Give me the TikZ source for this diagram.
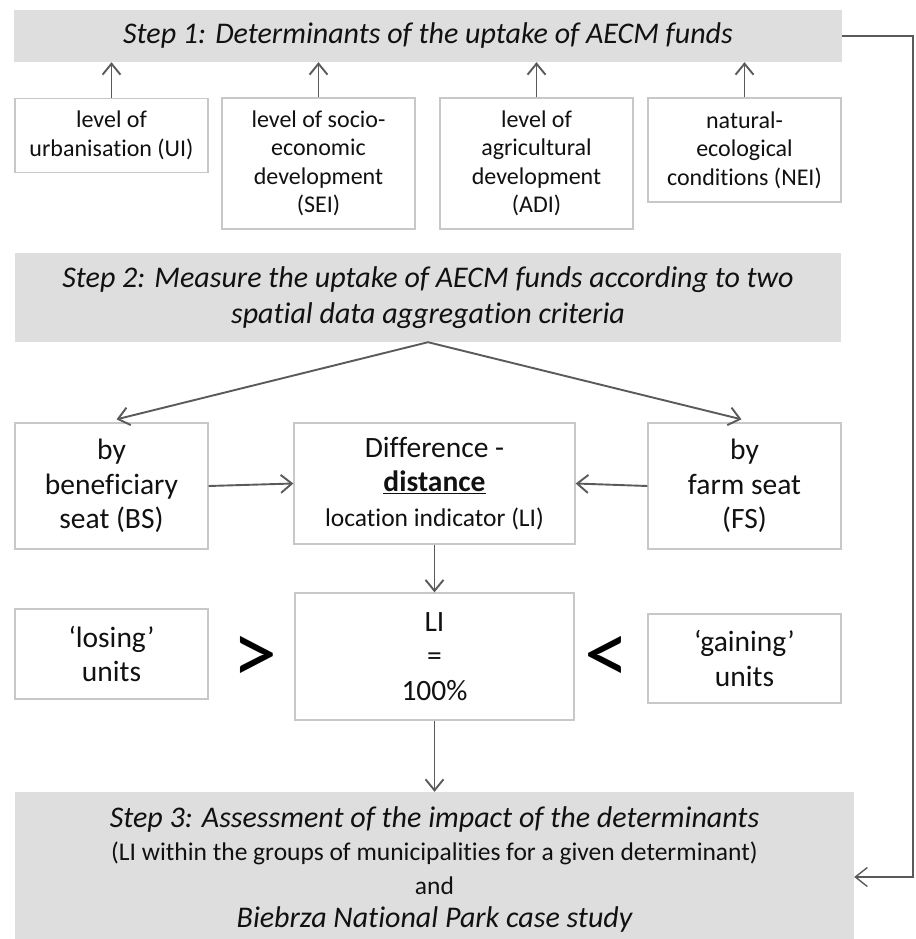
\documentclass[tikz,border=0pt]{standalone}
\usepackage{fontspec}
\setmainfont{Carlito}[Ligatures=NoCommon]
\usetikzlibrary{arrows.meta,calc}
\definecolor{stepfill}{HTML}{DEDEDE}
\definecolor{boxline}{HTML}{C8C8C8}
\definecolor{arrowcol}{HTML}{5A5A5A}
\definecolor{txt}{HTML}{111111}
\begin{document}
\begin{tikzpicture}[x=1pt,y=-1pt,
  stepbox/.style={fill=stepfill, draw=none, inner sep=0pt, align=center, text=txt},
  plainbox/.style={draw=boxline, line width=1.3pt, fill=white, inner sep=0pt, align=center, text=txt},
  rowone/.style={plainbox, minimum width=193pt, font=\fontsize{24}{28.5}\selectfont},
  midtext/.style={font=\fontsize{29.5}{34.5}\selectfont},
  arr/.style={draw=arrowcol, line width=1.9pt, -{Straight Barb[length=11pt,width=18pt]}},
  feedarr/.style={draw=arrowcol, line width=1.4pt, -{Straight Barb[length=12pt,width=19pt]}},
  relsign/.style={inner sep=0pt, text=black, font=\fontsize{90}{90}\selectfont}]
\useasboundingbox (0,0) rectangle (915,939);

% Step 1
\node[stepbox, minimum width=828pt, minimum height=52pt,
      font=\fontsize{30}{34}\selectfont\itshape] (step1) at (428,36)
  {Step 1: Determinants of the uptake of AECM funds};

% Row of determinants
\node[rowone, minimum height=74pt] (ui) at (111.5,135.5) {level of\\urbanisation (UI)};
\node[rowone, minimum height=131pt] (sei) at (318.5,163.5) {level of socio-\\economic\\development\\(SEI)};
\node[rowone, minimum height=131pt] (adi) at (536.5,163.5) {level of\\agricultural\\development\\(ADI)};
\node[rowone, minimum height=104pt] (nei) at (744.5,150) {natural-\\ecological\\conditions (NEI)};

\foreach \n in {ui,sei,adi,nei}
  \draw[arr] (\n.north) -- (\n.north |- step1.south);

% Step 2
\node[stepbox, minimum width=826pt, minimum height=89pt,
      font=\fontsize{30}{36}\selectfont\itshape] (step2) at (428,297.5)
  {Step 2: Measure the uptake of AECM funds according to two\\spatial data aggregation criteria};

% Aggregation criteria
\node[plainbox, midtext, minimum width=193pt, minimum height=126pt] (bs) at (111.5,486)
  {by\\beneficiary\\seat (BS)};
\node[plainbox, midtext, minimum width=281pt, minimum height=121pt] (diff) at (434.5,483.5)
  {Difference -\\\underline{\textbf{distance}}\\{\fontsize{25.5}{34.5}\selectfont location indicator (LI)}};
\node[plainbox, midtext, minimum width=193pt, minimum height=126pt] (fs) at (744.5,486)
  {by\\farm seat\\(FS)};

\draw[arr] (step2.south) -- ([xshift=5pt,yshift=3pt]bs.north);
\draw[arr] (step2.south) -- ([xshift=-3pt,yshift=3pt]fs.north);
\draw[arr] (bs.east) -- (diff.west);
\draw[arr] (fs.west) -- (diff.east);

% LI row
\node[plainbox, midtext, minimum width=279pt, minimum height=127pt] (li) at (434.5,656.5)
  {LI\\=\\100\%};
\node[plainbox, midtext, minimum width=193pt, minimum height=90pt] (losing) at (111.5,654)
  {‘losing’\\units};
\node[plainbox, midtext, minimum width=193pt, minimum height=89pt] (gaining) at (744.5,658.5)
  {‘gaining’\\units};
\node[relsign] (gt) at (255,660) {>};
\node[relsign] (lt) at (607,660) {<};

\draw[arr] (diff.south) -- (li.north);

% Step 3
\node[stepbox, minimum width=839pt, minimum height=147pt] (step3) at (434.5,865.5) {};
\node[inner sep=0pt, align=center, text=txt, font=\fontsize{25.5}{33.5}\selectfont] (step3text) at (434.5,869.5)
  {{\fontsize{30}{33.5}\selectfont\itshape Step 3: Assessment of the impact of the determinants}\\
   (LI within the groups of municipalities for a given determinant)\\
   and\\
   {\fontsize{30}{33.5}\selectfont\itshape Biebrza National Park case study}};

\draw[arr] (li.south) -- (li.south |- step3.north);

% Feedback connector
\coordinate (fbin) at ([yshift=-11.5pt]step3.east);
\coordinate (fbcorner) at (913,36);
\draw[feedarr] (step1.east) -- (fbcorner) |- (fbin);
\end{tikzpicture}
\end{document}
